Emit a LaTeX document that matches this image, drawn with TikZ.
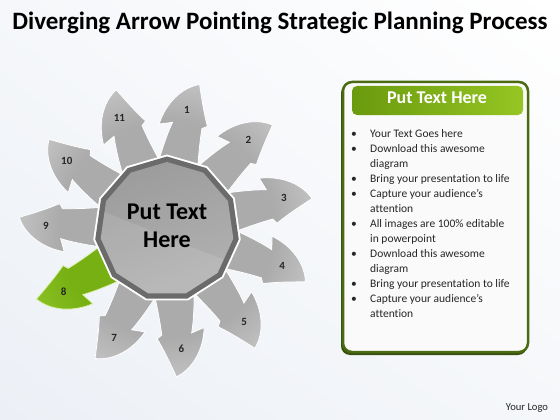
\documentclass[tikz,border=0pt]{standalone}
\usepackage{fontspec}
\setmainfont{Carlito}[Ligatures=NoCommon]
\usetikzlibrary{shapes.geometric,shadings}
\definecolor{arrA}{HTML}{ABABAB}
\definecolor{arrB}{HTML}{D2D2D2}
\definecolor{arrC}{HTML}{F5F5F5}
\definecolor{grnA}{HTML}{76B012}
\definecolor{grnB}{HTML}{98CC30}
\definecolor{grnC}{HTML}{DCF0B0}
\definecolor{polyBand}{HTML}{6B6B6B}
\definecolor{polyA}{HTML}{9C9C9C}
\definecolor{polyB}{HTML}{B2B2B2}
\definecolor{panelBorder}{HTML}{4B6B12}
\definecolor{panelFill}{HTML}{FAFAFA}
\definecolor{hdrA}{HTML}{6A9A0E}
\definecolor{hdrB}{HTML}{95C623}
\definecolor{bodyTxt}{HTML}{262626}
\definecolor{bgA}{HTML}{ECF0F6}
\definecolor{bgB}{HTML}{F5F7FA}
\pgfdeclareradialshading{arrgray}{\pgfpoint{0bp}{0bp}}{color(0bp)=(arrA); color(18bp)=(arrA); color(30bp)=(arrB); color(44bp)=(arrC); color(50bp)=(arrC)}
\pgfdeclareradialshading{arrgreen}{\pgfpoint{0bp}{0bp}}{color(0bp)=(grnA); color(18bp)=(grnA); color(30bp)=(grnB); color(44bp)=(grnC); color(50bp)=(grnC)}
\tikzset{
  numlbl/.style={font=\fontsize{11}{13}\selectfont\bfseries, text=black!85, inner sep=0pt},
  bodytxt/.style={font=\fontsize{11.5}{14}\selectfont, text=bodyTxt, inner sep=0pt},
  arrowshape/.style={insert path={(45,22) .. controls (70,20) and (92,17) .. (106,13) -- (102,26) .. controls (124,23) and (142,10) .. (148,-7) .. controls (136,-11) and (121,-16) .. (108,-22) -- (105,-17) .. controls (90,-17) and (70,-19) .. (45,-22) -- cycle}}
}
\begin{document}
\begin{tikzpicture}[x=1pt,y=1pt]
\useasboundingbox (0,0) rectangle (560,-420);
\shade[upper left=bgB, upper right=white, lower left=bgA, lower right=bgB] (0,0) rectangle (560,-420);

\node[font=\fontsize{25}{30}\selectfont\bfseries, anchor=base] (title) at (280,-30) {Diverging Arrow Pointing Strategic Planning Process};

\coordinate (C) at (167,-229);
\foreach \k in {0,...,10} {
  \pgfmathsetmacro\a{80-\k*360/11}
  \pgfmathtruncatemacro\n{\k+1}
  \ifnum\n=8 \def\sh{arrgreen}\def\ed{grnC}\else \def\sh{arrgray}\def\ed{white}\fi
  \begin{scope}
    \clip[shift={(C)}, rotate=\a, arrowshape];
    \shade[shading=\sh] (C) circle (150);
  \end{scope}
  \draw[shift={(C)}, rotate=\a, draw=\ed, line width=0.8, arrowshape];
  \begin{scope}[shift={(C)}, rotate=\a]
    \node[numlbl] (lbl\n) at (121,1) {\n};
  \end{scope}
}

\begin{scope}[shift={(C)}]
  \fill[white] (90:74.5) \foreach \i in {1,...,10}{-- (90+\i*360/11:74.5)} -- cycle;
  \fill[polyBand] (90:72.5) \foreach \i in {1,...,10}{-- (90+\i*360/11:72.5)} -- cycle;
  \shade[top color=polyA, bottom color=polyB, shading angle=20] (90:67) \foreach \i in {1,...,10}{-- (90+\i*360/11:67)} -- cycle;
  \begin{scope}
    \clip (90:67) \foreach \i in {1,...,10}{-- (90+\i*360/11:67)} -- cycle;
    \fill[white, opacity=0.10] (-75,22) .. controls (-20,0) and (30,-20) .. (80,-40) -- (80,-80) -- (-75,-80) -- cycle;
  \end{scope}
\end{scope}
\node[font=\fontsize{24}{28}\selectfont\bfseries, align=center, inner sep=0pt] (center) at (167,-226) {Put Text\\Here};

\fill[panelBorder!75!black, rounded corners=9] (341,-84) rectangle (527,-355);
\draw[panelBorder, line width=2.5, fill=panelFill, rounded corners=9] (343,-82) rectangle (528,-352);
\shade[left color=hdrA, right color=hdrB, rounded corners=5] (352,-86) rectangle (523,-115);
\node[font=\fontsize{18}{20}\selectfont\bfseries, text=white] (hdr) at (437,-98) {Put Text Here};

\foreach \yy/\b/\t in {133/1/Your Text Goes here, 148/1/Download this awesome, 163/0/diagram, 178/1/Bring your presentation to life, 193/1/Capture your audience’s, 208/0/attention, 223/1/All images are 100\% editable, 238/0/in powerpoint, 253/1/Download this awesome, 268/0/diagram, 283/1/Bring your presentation to life, 298/1/Capture your audience’s, 313/0/attention} {
  \node[bodytxt, anchor=base west] (line\yy) at (370,-\yy-4) {\t};
  \ifnum\b=1 \node[bodytxt, anchor=base] (bul\yy) at (354,-\yy-4) {\textbullet}; \fi
}

\node[font=\fontsize{10.6}{12}\selectfont, text=bodyTxt, anchor=base] (logo) at (527,-410) {Your Logo};
\end{tikzpicture}
\end{document}
